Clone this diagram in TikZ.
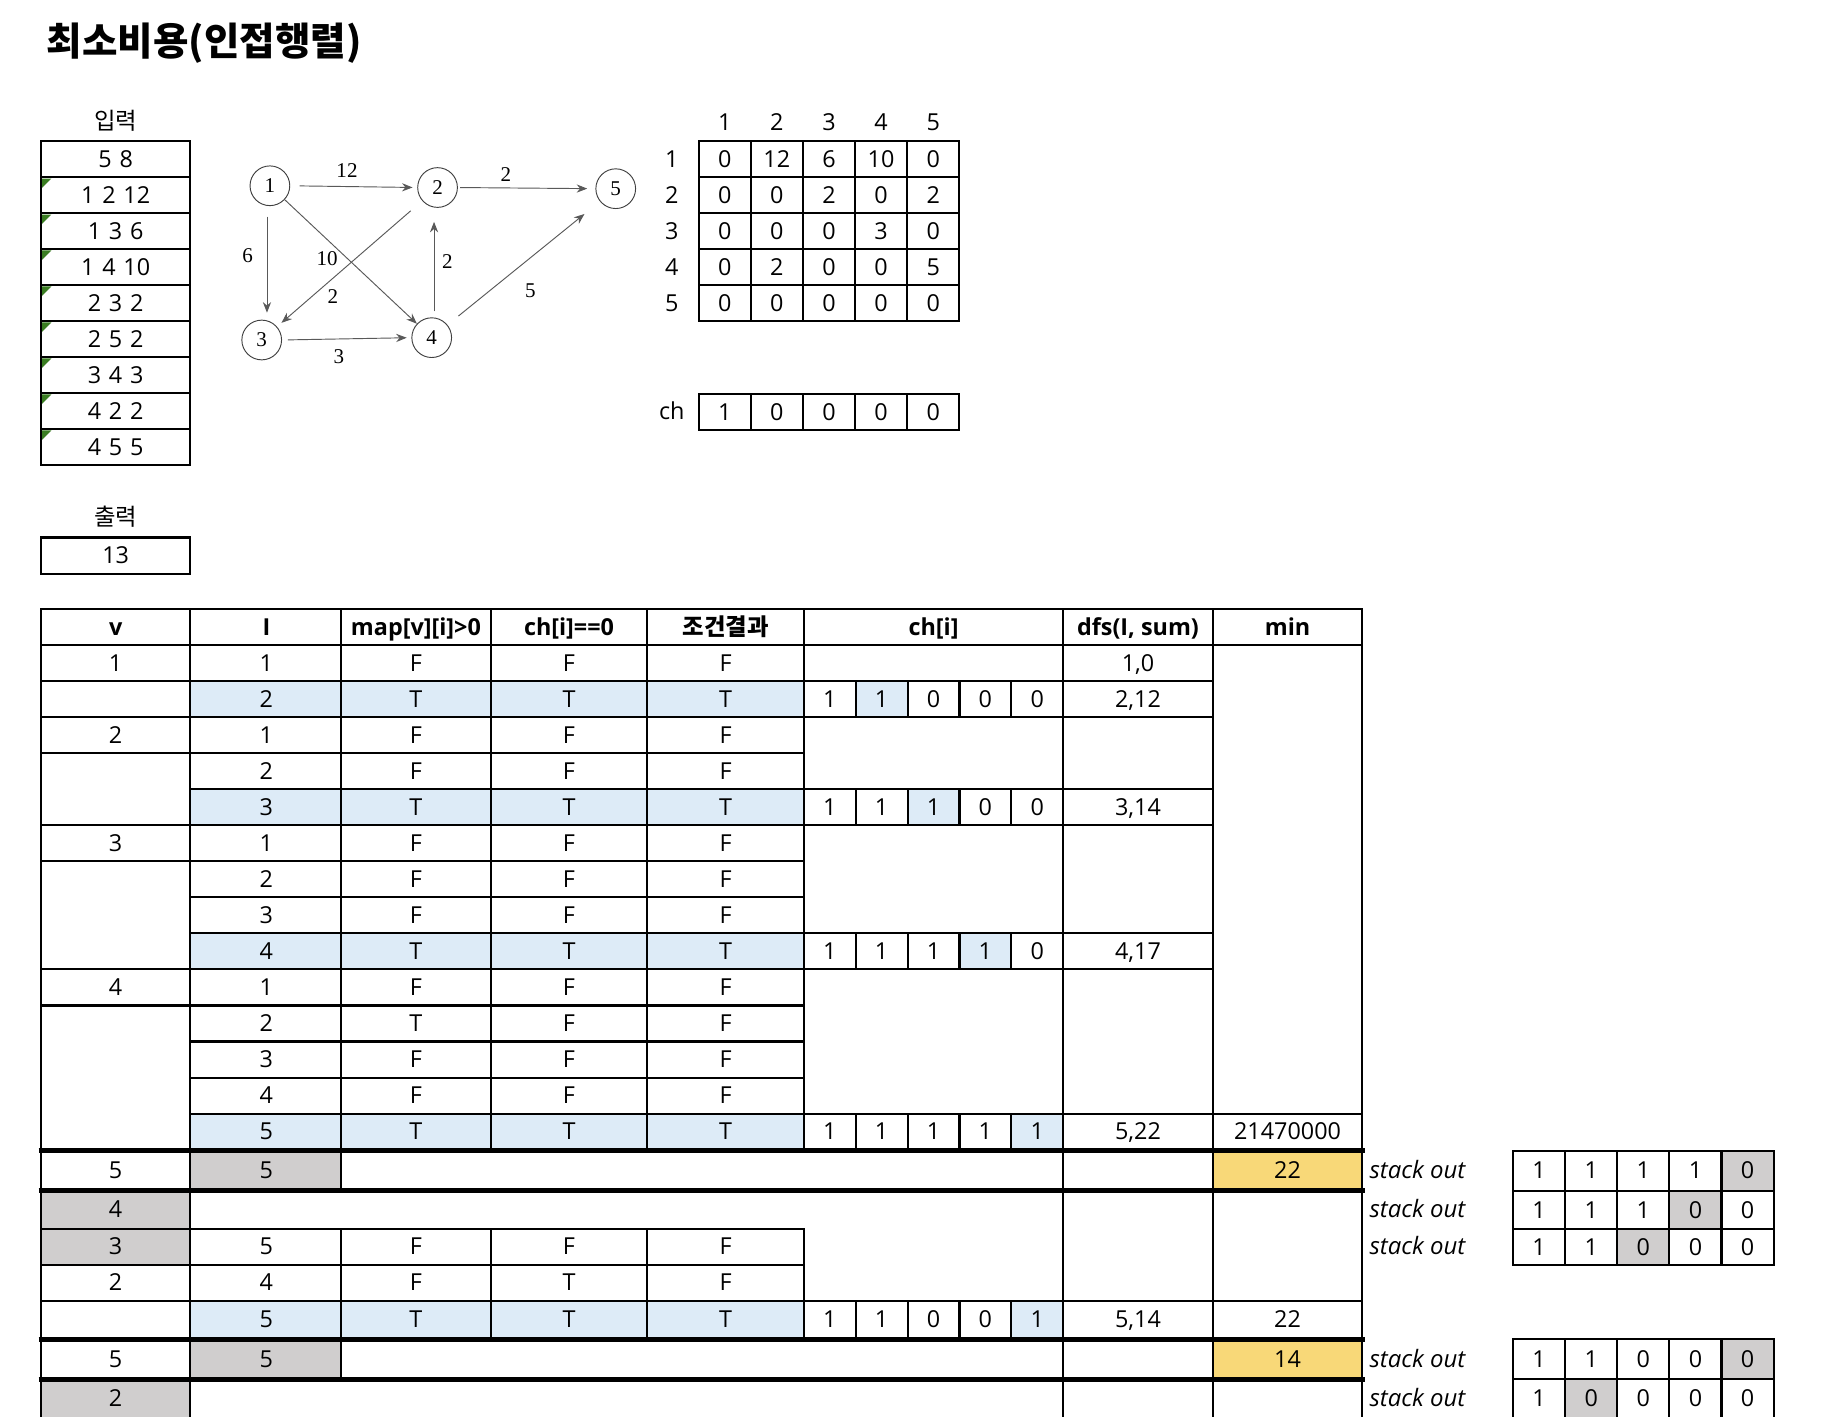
\documentclass[tikz,border=0pt]{standalone}
\usepackage{fontspec}
\setmainfont{Open Sans}
\newfontfamily\krfont{Noto Sans CJK KR}
\newfontfamily\grfont{Liberation Serif}
\usetikzlibrary{arrows.meta}
\definecolor{cblue}{HTML}{DDEBF7}
\definecolor{cgray}{HTML}{D0CECE}
\definecolor{cyel}{HTML}{F8D878}
\definecolor{cgreen}{HTML}{3A7D22}
\newcounter{tno}
\newcommand\wsp{\hspace{0.33em}}
\tikzset{
  autoname/.code={\stepcounter{tno}\pgfkeysalso{name=t\arabic{tno}}},
  t/.style={autoname,font=\fontsize{20}{22}\selectfont,inner sep=0pt,text height=14pt,text depth=0pt,anchor=center},
  th/.style={t,font=\fontsize{20}{22}\selectfont\bfseries},
  tk/.style={t,font=\fontsize{20}{22}\selectfont\krfont},
  tkh/.style={t,font=\fontsize{20}{22}\selectfont\krfont\bfseries},
  ts/.style={autoname,font=\fontsize{20.5}{22}\selectfont\itshape,inner sep=0pt,text height=14pt,text depth=0pt,anchor=west},
  grid/.style={line width=1.8pt,line cap=rect},
  thick line/.style={line width=4.5pt},
  gnode/.style={circle,draw=black!75,line width=0.8pt,minimum size=34pt,inner sep=0pt,font=\fontsize{18}{20}\selectfont\grfont},
  glabel/.style={inner sep=0pt,font=\fontsize{18}{20}\selectfont\grfont},
  gedge/.style={draw=black!65,line width=0.8pt,-{Stealth[length=9pt,width=7pt]}},
}
\newcommand\chrow[6]{\foreach \b [count=\j] in {#2,#3,#4,#5,#6} {\node[t] at ({688+(\j-0.5)*44.4},#1) {\b};}}
\newcommand\arrrow[6]{\foreach \b [count=\j] in {#2,#3,#4,#5,#6} {\node[t] at ({1295+(\j-0.5)*44.6},#1) {\b};}}
\begin{document}
\begin{tikzpicture}[x=1pt,y=-1pt]
\useasboundingbox (0,0) rectangle (1568,1212);
\fill[white] (0,0) rectangle (1568,1212);
\begin{scope}
\clip (0,0) rectangle (1568,1212);

% ---------- title ----------
\node[autoname,anchor=west,inner sep=0pt,font=\fontsize{33}{37}\selectfont\krfont\bfseries] at (40,37) {최소비용(인접행렬)};

% ---------- input / output ----------
\node[tk] at (99,104) {입력};
\foreach \s [count=\k from 0] in {5\wsp8,1\wsp2\wsp12,1\wsp3\wsp6,1\wsp4\wsp10,2\wsp3\wsp2,2\wsp5\wsp2,3\wsp4\wsp3,4\wsp2\wsp2,4\wsp5\wsp5} {
  \draw[grid] (35,{121+30.8*\k}) rectangle (163,{151.8+30.8*\k});
  \node[t] at (99,{136.4+30.8*\k}) {\s};
}
\foreach \k in {1,...,8} {
  \fill[cgreen] (36,{122+30.8*\k}) -- ++(8,0) -- ++(-8,8) -- cycle;
}
\node[tk] at (99,443) {출력};
\draw[grid] (35,460) rectangle (163,491);
\node[t] at (99,475.5) {13};

% ---------- graph ----------
\node[gnode] (g1) at (231,159) {1};
\node[gnode] (g2) at (374.5,160.5) {2};
\node[gnode] (g5) at (527,161.5) {5};
\node[gnode] (g3) at (224,291) {3};
\node[gnode] (g4) at (369.5,289) {4};
\draw[gedge,shorten <=8pt,shorten >=4pt] (g1.east) -- (g2.west);
\draw[gedge,shorten <=2pt,shorten >=7pt] (g2.east) -- (g5.west);
\draw[gedge,shorten <=9pt,shorten >=6pt] ([xshift=-2.5pt]g1.south) -- ([xshift=4.5pt]g3.north);
\draw[gedge] (g1) -- (g4);
\draw[gedge,shorten <=13pt,shorten >=5pt] (g2) -- (g3);
\draw[gedge,shorten <=5pt,shorten >=12pt] ([xshift=2pt]g4.north) -- ([xshift=-3pt]g2.south);
\draw[gedge,shorten <=12pt,shorten >=17pt] (g4) -- (g5);
\draw[gedge,shorten <=5pt,shorten >=4pt] (g3.east) -- (g4.west);
\node[glabel] (l12) at (297,146) {12};
\node[glabel] (l25) at (433,149) {2};
\node[glabel] (l13) at (212,219) {6};
\node[glabel] (l14) at (280,221) {10};
\node[glabel] (l23) at (285,254) {2};
\node[glabel] (l42) at (383,224) {2};
\node[glabel] (l45) at (454,249) {5};
\node[glabel] (l34) at (290,305) {3};

% ---------- adjacency matrix ----------
\foreach \j in {1,...,5} {
  \node[t] at ({598+(\j-0.5)*44.6},105) {\j};
  \node[t] at (575,{136.4+30.8*(\j-1)}) {\j};
}
\foreach \r/\a/\b/\c/\d/\e [count=\i from 0] in {1/0/12/6/10/0,2/0/0/2/0/2,3/0/0/0/3/0,4/0/2/0/0/5,5/0/0/0/0/0} {
  \foreach \x [count=\j from 0] in {\a,\b,\c,\d,\e} {
    \draw[grid] ({598+44.6*\j},{121+30.8*\i}) rectangle ({642.6+44.6*\j},{151.8+30.8*\i});
    \node[t] at ({620.3+44.6*\j},{136.4+30.8*\i}) {\x};
  }
}
\node[t] at (575,352) {ch};
\foreach \x [count=\j from 0] in {1,0,0,0,0} {
  \draw[grid] ({598+44.6*\j},337) rectangle ({642.6+44.6*\j},368);
  \node[t] at ({620.3+44.6*\j},352.5) {\x};
}

% ---------- main table fills ----------
\foreach \a/\b in {582.9/613.7,675.4/706.3,798.9/829.7,953.1/984,1113.3/1144.4} {
  \fill[cblue] (163,\a) rectangle (688,\b);
}
\fill[cblue] (732.4,582.9) rectangle (776.8,613.7);
\fill[cblue] (776.8,675.4) rectangle (821.2,706.3);
\fill[cblue] (821.2,798.9) rectangle (865.6,829.7);
\fill[cblue] (865.6,953.1) rectangle (910,984);
\fill[cblue] (865.6,1113.3) rectangle (910,1144.4);
\fill[cgray] (163,985) rectangle (292,1019);
\fill[cgray] (35,1019) rectangle (163,1082.4);
\fill[cgray] (163,1146.5) rectangle (292,1181);
\fill[cgray] (35,1181) rectangle (163,1214);
\fill[cyel] (1038,985) rectangle (1166,1019);
\fill[cyel] (1038,1146.5) rectangle (1166,1181);

% ---------- main table lines ----------
\draw[grid] (35,521) -- (1166,521);
\draw[grid] (35,552) -- (1166,552);
\foreach \y in {582.9,613.7,644.6,706.3,737.1,829.7,860.6} {\draw[grid] (35,\y) -- (163,\y);}
\foreach \y in {582.9,613.7,644.6,675.4,706.3,737.1,768.0,798.9,829.7,860.6,891.4,922.3,953.1} {\draw[grid] (163,\y) -- (688,\y);}
\foreach \y in {582.9,613.7,675.4,706.3,798.9,829.7,953.1} {\draw[grid] (688,\y) -- (1038,\y);}
\draw[grid] (1038,953.1) -- (1166,953.1);
\foreach \x in {35,163,910,1038,1166} {\draw[grid] (\x,521) -- (\x,1214);}
\draw[grid] (292,521) -- (292,984);
\draw[grid] (292,985) -- (292,1019);
\draw[grid] (292,1051.6) -- (292,1181);
\foreach \x in {420,554,688} {
  \draw[grid] (\x,521) -- (\x,984);
  \draw[grid] (\x,1051.6) -- (\x,1144.4);
}
\foreach \a/\b in {582.9/613.7,675.4/706.3,798.9/829.7,953.1/984,1113.3/1144.4} {
  \foreach \x in {732.4,776.8,821.2,865.6} {\draw[grid] (\x,\a) -- (\x,\b);}
}
\draw[grid] (35,1051.6) -- (688,1051.6);
\draw[grid] (35,1082.4) -- (688,1082.4);
\draw[grid] (35,1113.3) -- (1166,1113.3);
\foreach \y in {985,1019,1146.5,1181} {\draw[thick line] (33,\y) -- (1168,\y);}

% ---------- main table texts ----------
\node[th] at (99,537) {v};
\node[th] at (228,537) {I};
\node[th] at (356,537) {map[v][i]>0};
\node[th] at (487,537) {ch[i]==0};
\node[tkh] at (621,537) {조건결과};
\node[th] at (799,537) {ch[i]};
\node[th] at (974,537) {dfs(I, sum)};
\node[th] at (1102,537) {min};

\foreach \v/\l/\m/\c/\r [count=\k] in {
  1/1/F/F/F, {}/2/T/T/T, 2/1/F/F/F, {}/2/F/F/F, {}/3/T/T/T, 3/1/F/F/F, {}/2/F/F/F,
  {}/3/F/F/F, {}/4/T/T/T, 4/1/F/F/F, {}/2/T/F/F, {}/3/F/F/F, {}/4/F/F/F, {}/5/T/T/T} {
  \pgfmathsetmacro\yc{552+(\k-0.5)*30.857}
  \node[t] at (99,\yc) {\v};
  \node[t] at (228,\yc) {\l};
  \node[t] at (356,\yc) {\m};
  \node[t] at (487,\yc) {\c};
  \node[t] at (621,\yc) {\r};
}
\node[t] at (974,567.4) {1,0};
\node[t] at (974,598.3) {2,12};
\node[t] at (974,690.9) {3,14};
\node[t] at (974,814.3) {4,17};
\node[t] at (974,968.6) {5,22};
\node[t] at (1102,968.6) {21470000};
\chrow{598.3}{1}{1}{0}{0}{0}
\chrow{690.9}{1}{1}{1}{0}{0}
\chrow{814.3}{1}{1}{1}{1}{0}
\chrow{968.6}{1}{1}{1}{1}{1}

% lower part
\node[t] at (99,1002) {5};
\node[t] at (228,1002) {5};
\node[t] at (1102,1002) {22};
\node[t] at (99,1035.3) {4};
\node[t] at (99,1067) {3};
\node[t] at (228,1067) {5};
\node[t] at (356,1067) {F};
\node[t] at (487,1067) {F};
\node[t] at (621,1067) {F};
\node[t] at (99,1097.9) {2};
\node[t] at (228,1097.9) {4};
\node[t] at (356,1097.9) {F};
\node[t] at (487,1097.9) {T};
\node[t] at (621,1097.9) {F};
\node[t] at (228,1128.9) {5};
\node[t] at (356,1128.9) {T};
\node[t] at (487,1128.9) {T};
\node[t] at (621,1128.9) {T};
\chrow{1128.9}{1}{1}{0}{0}{1}
\node[t] at (974,1128.9) {5,14};
\node[t] at (1102,1128.9) {22};
\node[t] at (99,1163.8) {5};
\node[t] at (228,1163.8) {5};
\node[t] at (1102,1163.8) {14};
\node[t] at (99,1197) {2};

% ---------- stack out ----------
\foreach \y in {1002,1035.3,1067,1163.8,1197} {\node[ts] at (1172,\y) {stack out};}

% ---------- right arrays ----------
\fill[cgray] (1473.4,985) rectangle (1518,1019);
\fill[cgray] (1428.8,1019) rectangle (1473.4,1052);
\fill[cgray] (1384.2,1052) rectangle (1428.8,1083);
\fill[cgray] (1473.4,1146) rectangle (1518,1180);
\fill[cgray] (1339.6,1180) rectangle (1384.2,1214);
\foreach \a/\b in {985/1019,1019/1052,1052/1083,1146/1180,1180/1214} {
  \foreach \j in {0,...,4} {\draw[grid] ({1295+44.6*\j},\a) rectangle ({1339.6+44.6*\j},\b);}
}
\arrrow{1002}{1}{1}{1}{1}{0}
\arrrow{1035.5}{1}{1}{1}{0}{0}
\arrrow{1067.5}{1}{1}{0}{0}{0}
\arrrow{1163}{1}{1}{0}{0}{0}
\arrrow{1197}{1}{0}{0}{0}{0}
\end{scope}
\end{tikzpicture}
\end{document}
